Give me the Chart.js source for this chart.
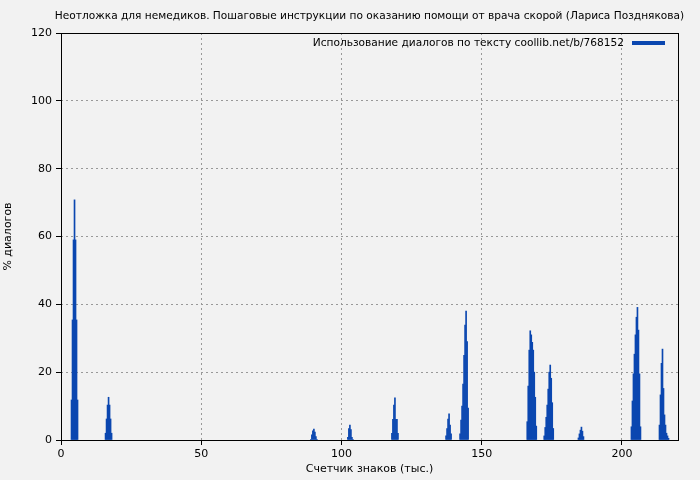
<!DOCTYPE html>
<html>
<head>
<meta charset="utf-8">
<script src="https://cdn.jsdelivr.net/npm/chart.js@4/dist/chart.umd.min.js"></script>
<style>
  html, body { margin: 0; padding: 0; background: #f2f2f2; }
  #wrap { width: 700px; height: 480px; }
</style>
</head>
<body>
<div id="wrap"><canvas id="c" width="700" height="480"></canvas></div>
<script>
// Histogram of dialog share along the text.
const TITLE = 'Неотложка для немедиков. Пошаговые инструкции по оказанию помощи от врача скорой (Лариса Позднякова)';
const SERIES_LABEL = 'Использование диалогов по тексту coollib.net/b/768152';
const X_TITLE = 'Счетчик знаков (тыс.)';
const Y_TITLE = '% диалогов';

// width of one histogram bin, thousand characters
const BIN_WIDTH = 0.357;
// where each cluster of bins starts (thousand characters)
const peakStarts = [3.75, 15.89, 89.1, 102.3, 118.0, 137.3, 142.3, 166.25, 172.3, 184.5, 203.4, 213.4];
// % of dialogs per bin, one list per cluster
const peakValues = [
  [11.8, 35.4, 59.0, 70.8, 59.0, 35.4, 11.8],
  [2.0, 6.2, 10.3, 12.6, 10.3, 6.2, 2.0],
  [0.2, 1.5, 2.7, 3.2, 2.3, 1.0, 0.2],
  [0.8, 3.4, 4.4, 3.1, 0.8, 0.2],
  [2.0, 6.1, 10.3, 12.4, 6.1, 6.1, 2.0],
  [1.2, 3.4, 6.2, 7.7, 4.4, 1.8],
  [1.8, 5.9, 10.0, 16.5, 25.0, 33.9, 38.0, 29.0, 9.4],
  [5.4, 15.9, 26.5, 32.2, 31.0, 28.8, 26.5, 20.0, 12.6, 4.1],
  [1.2, 3.7, 6.7, 10.3, 15.0, 20.0, 22.1, 18.2, 11.0, 3.4],
  [0.6, 1.8, 2.9, 3.8, 2.6, 1.0],
  [3.9, 11.5, 19.5, 25.3, 31.0, 36.2, 39.1, 32.4, 19.5, 3.9],
  [4.4, 13.3, 22.6, 26.8, 15.2, 7.4, 4.4, 2.0, 1.2, 0.5],
];
const xTicks = [0, 50, 100, 150, 200];
const yTicks = [0, 20, 40, 60, 80, 100, 120];

const BLUE = '#0b47b0';
const FONT = 'DejaVu Sans';

const points = [];
peakStarts.forEach((start, i) => {
  peakValues[i].forEach((v, j) => points.push({ x: +(start + j * BIN_WIDTH).toFixed(3), y: v }));
});

// title over the plot, black frame around it, legend in the top-right corner
const frameAndLegend = {
  id: 'frameAndLegend',
  afterDraw(chart) {
    const { ctx, chartArea: a } = chart;
    ctx.save();
    ctx.strokeStyle = '#000';
    ctx.lineWidth = 1;
    ctx.setLineDash([]);
    ctx.strokeRect(Math.round(a.left) + 0.5, Math.round(a.top) + 0.5,
      Math.round(a.right - a.left), Math.round(a.bottom - a.top));

    ctx.font = '10.6px "' + FONT + '"';
    ctx.fillStyle = '#000';
    ctx.textAlign = 'center';
    ctx.textBaseline = 'middle';
    ctx.fillText(TITLE, (a.left + a.right) / 2, 16);

    ctx.textAlign = 'right';
    ctx.fillText(SERIES_LABEL, a.right - 54, a.top + 10);
    ctx.fillStyle = BLUE;
    ctx.fillRect(a.right - 46, a.top + 8, 33, 4);
    ctx.restore();
  },
};

new Chart(document.getElementById('c'), {
  type: 'bar',
  data: {
    datasets: [{
      label: SERIES_LABEL,
      data: points,
      backgroundColor: BLUE,
      borderWidth: 0,
      barPercentage: 1,
      categoryPercentage: 1,
      grouped: false,
    }],
  },
  options: {
    responsive: false,
    animation: false,
    layout: { padding: { left: 0, right: 22, top: 33, bottom: 0 } },
    plugins: {
      legend: { display: false },
      tooltip: { enabled: false },
      title: { display: false },
    },
    scales: {
      x: {
        type: 'linear',
        min: 0,
        max: 220,
        offset: false,
        afterFit: (s) => { s.height = 40; },
        afterBuildTicks: (s) => { s.ticks = xTicks.map((v) => ({ value: v })); },
        ticks: { color: '#000', font: { family: FONT, size: 11 }, padding: 3, maxRotation: 0 },
        grid: { offset: false, color: '#999', tickColor: '#000', tickLength: 5, tickBorderDash: [] },
        border: { display: false, dash: [2, 3] },
        title: { display: true, text: X_TITLE, color: '#000', font: { family: FONT, size: 11 }, padding: { top: 0, bottom: 4 } },
      },
      y: {
        min: 0,
        max: 120,
        afterFit: (s) => { s.width = 61; },
        afterBuildTicks: (s) => { s.ticks = yTicks.map((v) => ({ value: v })); },
        ticks: { color: '#000', font: { family: FONT, size: 11 }, padding: 4 },
        grid: { color: '#999', tickColor: '#000', tickLength: 5, tickBorderDash: [] },
        border: { display: false, dash: [2, 3] },
        title: { display: true, text: Y_TITLE, color: '#000', font: { family: FONT, size: 11 }, padding: { top: 2, bottom: 0 } },
      },
    },
  },
  plugins: [frameAndLegend],
});
</script>
</body>
</html>
